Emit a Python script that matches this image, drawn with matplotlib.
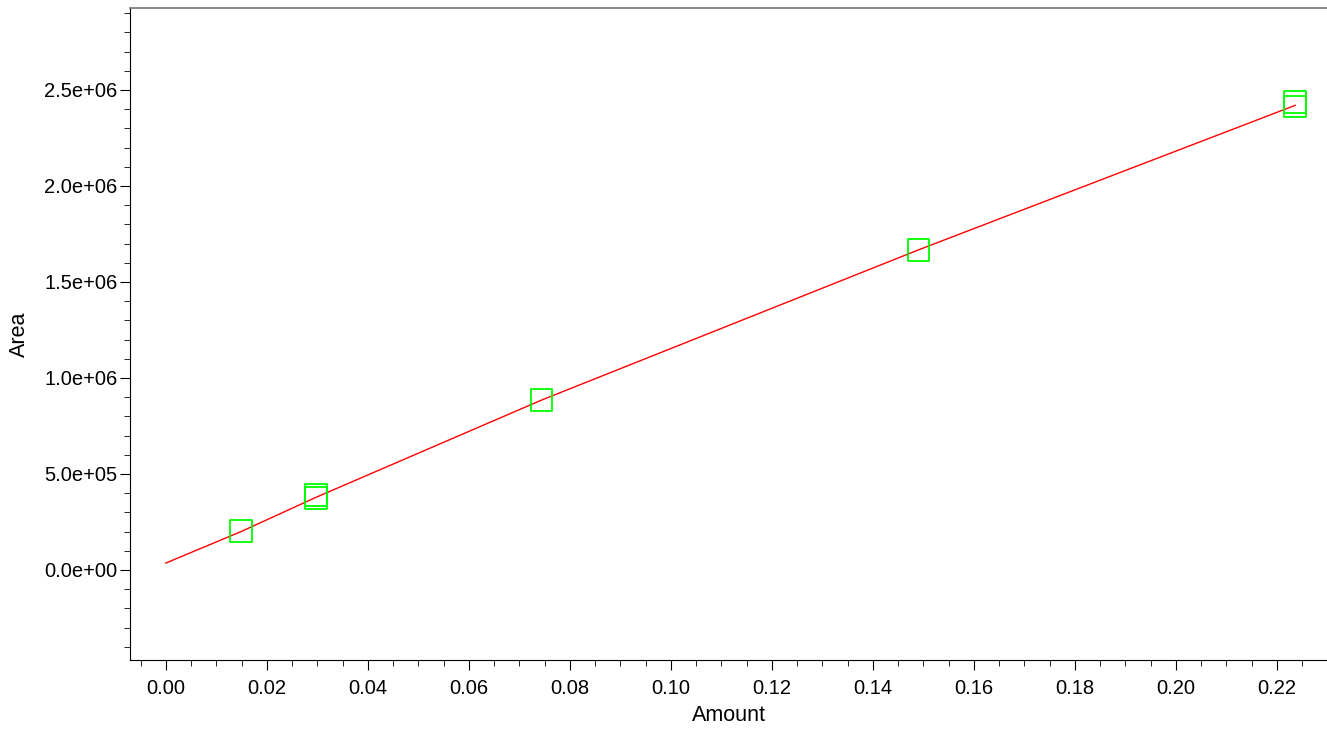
import matplotlib.pyplot as plt
from matplotlib.ticker import MultipleLocator, FormatStrFormatter, FuncFormatter

plt.rcParams['font.family'] = ['Liberation Sans', 'DejaVu Sans']

# calibration points (amount, area)
amount = [0.0149, 0.0297, 0.0297, 0.0744, 0.1490, 0.2236, 0.2236]
area = [2.03e5, 3.90e5, 3.75e5, 8.85e5, 1.667e6, 2.437e6, 2.415e6]

# fitted curve
fit_x = [0.0, 0.0149, 0.0297, 0.0744, 0.1490, 0.2236]
fit_y = [0.036e6, 0.200e6, 0.378e6, 0.885e6, 1.667e6, 2.420e6]

fig = plt.figure(figsize=(13.27, 7.31), dpi=100)
ax = fig.add_axes([130 / 1327, 1 - 660 / 731, 1197 / 1327, 652 / 731])

ax.plot(fit_x, fit_y, color='red', linewidth=1)
ax.scatter(amount, area, marker='s', s=240, facecolors='none',
           edgecolors='#00ff00', linewidths=1.3, zorder=3)

ax.set_xlim(-0.0071, 0.2299)
ax.set_ylim(-0.469e6, 2.927e6)

ax.xaxis.set_major_locator(MultipleLocator(0.02))
ax.xaxis.set_minor_locator(MultipleLocator(0.005))
ax.yaxis.set_major_locator(MultipleLocator(5e5))
ax.yaxis.set_minor_locator(MultipleLocator(1e5))
ax.xaxis.set_major_formatter(FormatStrFormatter('%.2f'))
ax.yaxis.set_major_formatter(FuncFormatter(lambda v, p: f'{v:.1e}'))

ax.tick_params(which='major', direction='out', length=7, labelsize=14.5)
ax.tick_params(which='minor', direction='out', length=4)
ax.tick_params(axis='x', pad=7)
ax.tick_params(axis='y', pad=2)

ax.spines['right'].set_visible(False)
ax.spines['top'].set_color('#777777')
ax.spines['top'].set_linewidth(1.2)

ax.set_xlabel('Amount', fontsize=15.5, labelpad=5)
ax.set_ylabel('Area', fontsize=15.5, labelpad=10)

fig.savefig('out.png', dpi=100)
